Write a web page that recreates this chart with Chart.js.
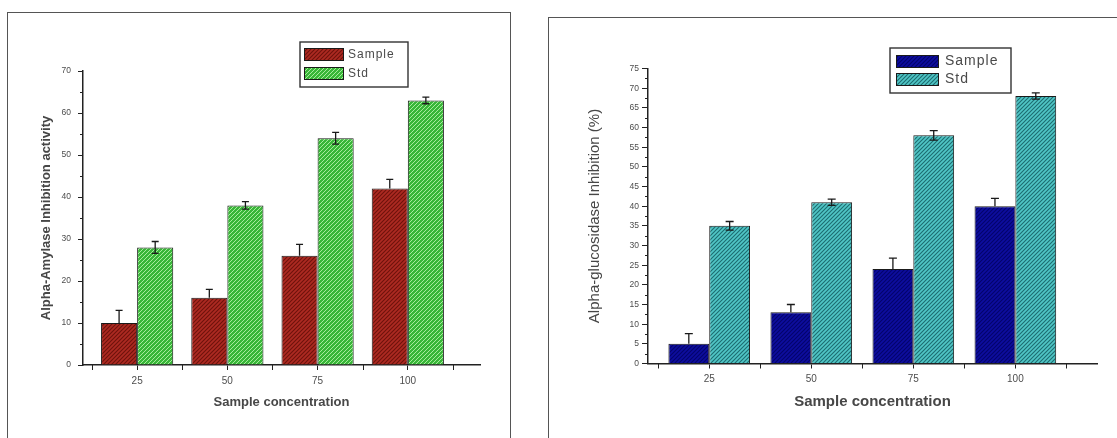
<!DOCTYPE html>
<html>
<head>
<meta charset="utf-8">
<script src="https://cdn.jsdelivr.net/npm/chart.js@4.4.1/dist/chart.umd.min.js"></script>
<style>
  html, body { margin: 0; padding: 0; background: #fff; width: 1117px; height: 438px; overflow: hidden; position: relative; }
  .panel { position: absolute; border: 1.5px solid #555; box-sizing: border-box; }
  #panelA { left: 7px; top: 12px; width: 504px; height: 450px; }
  #panelB { left: 548px; top: 17px; width: 600px; height: 450px; }
  canvas { position: absolute; top: 0; }
  #amylase { left: 0; }
  #glucosidase { left: 530px; }
</style>
</head>
<body>
<div class="panel" id="panelA"></div>
<div class="panel" id="panelB"></div>
<canvas id="amylase" width="530" height="438" style="width:530px;height:438px"></canvas>
<canvas id="glucosidase" width="587" height="438" style="width:587px;height:438px"></canvas>
<script>
// Sample concentrations on the x axis
const concentrations = ['25', '50', '75', '100'];

// Alpha-amylase inhibition (mean and error)
const amylaseSample = [10, 16, 26, 42];
const amylaseSampleErr = [3, 2, 2.7, 2.2];
const amylaseStd = [28, 38, 54, 63];
const amylaseStdErr = [1.4, 0.9, 1.4, 0.8];

// Alpha-glucosidase inhibition (%) (mean and error)
const glucoSample = [5, 13, 24, 40];
const glucoSampleErr = [2.6, 2, 2.8, 2];
const glucoStd = [35, 41, 58, 68];
const glucoStdErr = [1.1, 0.8, 1.2, 0.8];

// Y axis tick labels
const amylaseTicks = [0, 10, 20, 30, 40, 50, 60, 70];
const glucoTicks = [0, 5, 10, 15, 20, 25, 30, 35, 40, 45, 50, 55, 60, 65, 70, 75];

// Diagonal hatch fill
function hatch(base, stripe, width) {
  const c = document.createElement('canvas');
  c.width = 4; c.height = 4;
  const g = c.getContext('2d');
  g.fillStyle = base;
  g.fillRect(0, 0, 4, 4);
  g.strokeStyle = stripe;
  g.lineWidth = width;
  g.beginPath();
  g.moveTo(-1, 5); g.lineTo(5, -1);
  g.moveTo(-1, 1); g.lineTo(1, -1);
  g.moveTo(3, 5); g.lineTo(5, 3);
  g.stroke();
  return g.createPattern(c, 'repeat');
}

const redFill = hatch('#ad2a22', '#6e120c', 1.1);
const greenFill = hatch('#38b638', '#a6ec9c', 1.0);
const blueFill = hatch('#0d0d9e', '#04046c', 1.1);
const tealFill = hatch('#50c6c6', '#1d6c70', 1.1);

// Error bars drawn from each dataset's errors array
const errorBars = {
  id: 'errorBars',
  afterDatasetsDraw(chart, args, opts) {
    const { ctx } = chart;
    const y = chart.scales.y;
    ctx.save();
    ctx.strokeStyle = '#1a1a1a';
    ctx.lineWidth = 1.3;
    chart.data.datasets.forEach((ds, di) => {
      const meta = chart.getDatasetMeta(di);
      meta.data.forEach((bar, i) => {
        const v = ds.data[i].y, e = ds.errors[i];
        const top = y.getPixelForValue(v + e);
        const bottom = ds.bothSides ? y.getPixelForValue(v - e) : y.getPixelForValue(v);
        const x = bar.x, hw = opts.cap;
        ctx.beginPath();
        ctx.moveTo(x, bottom); ctx.lineTo(x, top);
        ctx.moveTo(x - hw, top); ctx.lineTo(x + hw, top);
        if (ds.bothSides) { ctx.moveTo(x - hw, bottom); ctx.lineTo(x + hw, bottom); }
        ctx.stroke();
      });
    });
    ctx.restore();
  }
};

// Minor ticks: between labelled y ticks and on category boundaries
const minorTicks = {
  id: 'minorTicks',
  afterDraw(chart, args, opts) {
    const { ctx } = chart;
    const y = chart.scales.y, x = chart.scales.x;
    const { left, bottom } = chart.chartArea;
    ctx.save();
    ctx.strokeStyle = '#222';
    ctx.lineWidth = 1;
    for (let v = opts.step / 2; v < y.max; v += opts.step) {
      const py = Math.round(y.getPixelForValue(v)) + 0.5;
      ctx.beginPath();
      ctx.moveTo(left, py); ctx.lineTo(left - opts.length, py);
      ctx.stroke();
    }
    for (let i = 0; i <= concentrations.length; i++) {
      const px = Math.round(x.getPixelForValue(i + 0.5)) + 0.5;
      ctx.beginPath();
      ctx.moveTo(px, bottom); ctx.lineTo(px, bottom + 5);
      ctx.stroke();
    }
    ctx.restore();
  }
};

// Framed legend with hatched swatches
const boxLegend = {
  id: 'boxLegend',
  afterDraw(chart, args, opts) {
    const { ctx } = chart;
    ctx.save();
    ctx.strokeStyle = '#333';
    ctx.lineWidth = 1.4;
    ctx.strokeRect(opts.box[0], opts.box[1], opts.box[2], opts.box[3]);
    ctx.font = opts.font;
    ctx.letterSpacing = opts.spacing;
    ctx.textBaseline = 'middle';
    chart.data.datasets.forEach((ds, i) => {
      const cy = opts.rows[i];
      const sx = opts.swatch[0], sw = opts.swatch[1], sh = opts.swatch[2];
      ctx.fillStyle = ds.backgroundColor;
      ctx.fillRect(sx, cy - sh / 2, sw, sh);
      ctx.strokeStyle = '#1a1a1a';
      ctx.lineWidth = 1;
      ctx.strokeRect(sx + 0.5, cy - sh / 2 + 0.5, sw - 1, sh - 1);
      ctx.fillStyle = '#4a4a4a';
      ctx.fillText(ds.label, opts.textX, cy);
    });
    ctx.restore();
  }
};

function zeroPadding(s) {
  s.paddingLeft = 0; s.paddingRight = 0; s.paddingTop = 0; s.paddingBottom = 0;
}

function buildChart(id, cfg) {
  const points = vals => vals.map((v, i) => ({ x: i + 1, y: v }));
  return new Chart(document.getElementById(id), {
    type: 'bar',
    data: {
      datasets: [
        { label: 'Sample', data: points(cfg.sample), errors: cfg.sampleErr, bothSides: false,
          backgroundColor: cfg.sampleFill, borderColor: '#1a1a1a', borderWidth: 1 },
        { label: 'Std', data: points(cfg.std), errors: cfg.stdErr, bothSides: true,
          backgroundColor: cfg.stdFill, borderColor: '#1a1a1a', borderWidth: 1 }
      ]
    },
    options: {
      responsive: false,
      animation: false,
      events: [],
      layout: { padding: cfg.padding },
      datasets: { bar: { categoryPercentage: 0.8, barPercentage: 1.0 } },
      plugins: {
        legend: { display: false },
        tooltip: { enabled: false },
        errorBars: { cap: cfg.cap },
        minorTicks: { step: cfg.yStep, length: 3 },
        boxLegend: cfg.legend
      },
      scales: {
        x: {
          type: 'linear',
          offset: false,
          min: 0.4, max: 4.8,
          afterBuildTicks(s) { s.ticks = concentrations.map((c, i) => ({ value: i + 1 })); },
          afterFit(s) { s.height = cfg.xHeight; zeroPadding(s); },
          ticks: {
            autoSkip: false, maxRotation: 0,
            font: { family: 'Liberation Sans', size: 10 },
            color: '#4d4d4d',
            padding: cfg.xTickPad,
            callback: v => concentrations[v - 1]
          },
          grid: { display: true, offset: false, drawOnChartArea: false, tickLength: 5, tickColor: '#222', tickWidth: 1 },
          border: { display: true, color: '#222', width: 1.5 },
          title: {
            display: true, text: 'Sample concentration', color: '#474747',
            font: { family: 'Liberation Sans', size: cfg.xTitleSize, weight: 'bold' },
            padding: { top: 0, bottom: cfg.xTitlePad }
          }
        },
        y: {
          min: 0, max: cfg.yTicks[cfg.yTicks.length - 1],
          afterBuildTicks(s) { s.ticks = cfg.yTicks.map(v => ({ value: v })); },
          afterFit(s) { s.width = cfg.yWidth; zeroPadding(s); },
          ticks: {
            font: { family: 'Liberation Sans', size: 8.5 },
            color: '#4d4d4d',
            padding: cfg.yTickPad
          },
          grid: { display: true, drawOnChartArea: false, tickLength: cfg.yTickLen, tickColor: '#222', tickWidth: 1 },
          border: { display: true, color: '#222', width: 1.5 },
          title: {
            display: true, text: cfg.yTitle, color: '#474747',
            font: { family: 'Liberation Sans', size: cfg.yTitleSize, weight: cfg.yTitleWeight },
            padding: { top: cfg.yTitlePad, bottom: 0 }
          }
        }
      }
    },
    plugins: [errorBars, minorTicks, boxLegend]
  });
}

buildChart('amylase', {
  sample: amylaseSample, sampleErr: amylaseSampleErr,
  std: amylaseStd, stdErr: amylaseStdErr,
  sampleFill: redFill, stdFill: greenFill,
  padding: { left: 0, top: 71, right: 50, bottom: 0 },
  yTicks: amylaseTicks, yStep: 10, yWidth: 83, yTickLen: 5, yTickPad: 7,
  yTitle: 'Alpha-Amylase Inhibition activity', yTitleSize: 13, yTitleWeight: 'bold', yTitlePad: 39,
  xHeight: 73, xTickPad: 5, xTitleSize: 13, xTitlePad: 28,
  cap: 3.5,
  legend: { box: [300, 42, 108, 45], swatch: [304, 40, 13], rows: [54.5, 73.5], textX: 348,
            font: '12px "Liberation Sans"', spacing: '1px' }
});

buildChart('glucosidase', {
  sample: glucoSample, sampleErr: glucoSampleErr,
  std: glucoStd, stdErr: glucoStdErr,
  sampleFill: blueFill, stdFill: tealFill,
  padding: { left: 0, top: 68.5, right: 20, bottom: 0 },
  yTicks: glucoTicks, yStep: 5, yWidth: 118, yTickLen: 6, yTickPad: 3,
  yTitle: 'Alpha-glucosidase Inhibition (%)', yTitleSize: 15, yTitleWeight: 'normal', yTitlePad: 56,
  xHeight: 74.5, xTickPad: 5, xTitleSize: 15, xTitlePad: 27,
  cap: 4,
  legend: { box: [360, 48, 121, 45], swatch: [366, 43, 13], rows: [61.5, 79.5], textX: 415,
            font: '14px "Liberation Sans"', spacing: '1px' }
});
</script>
</body>
</html>
